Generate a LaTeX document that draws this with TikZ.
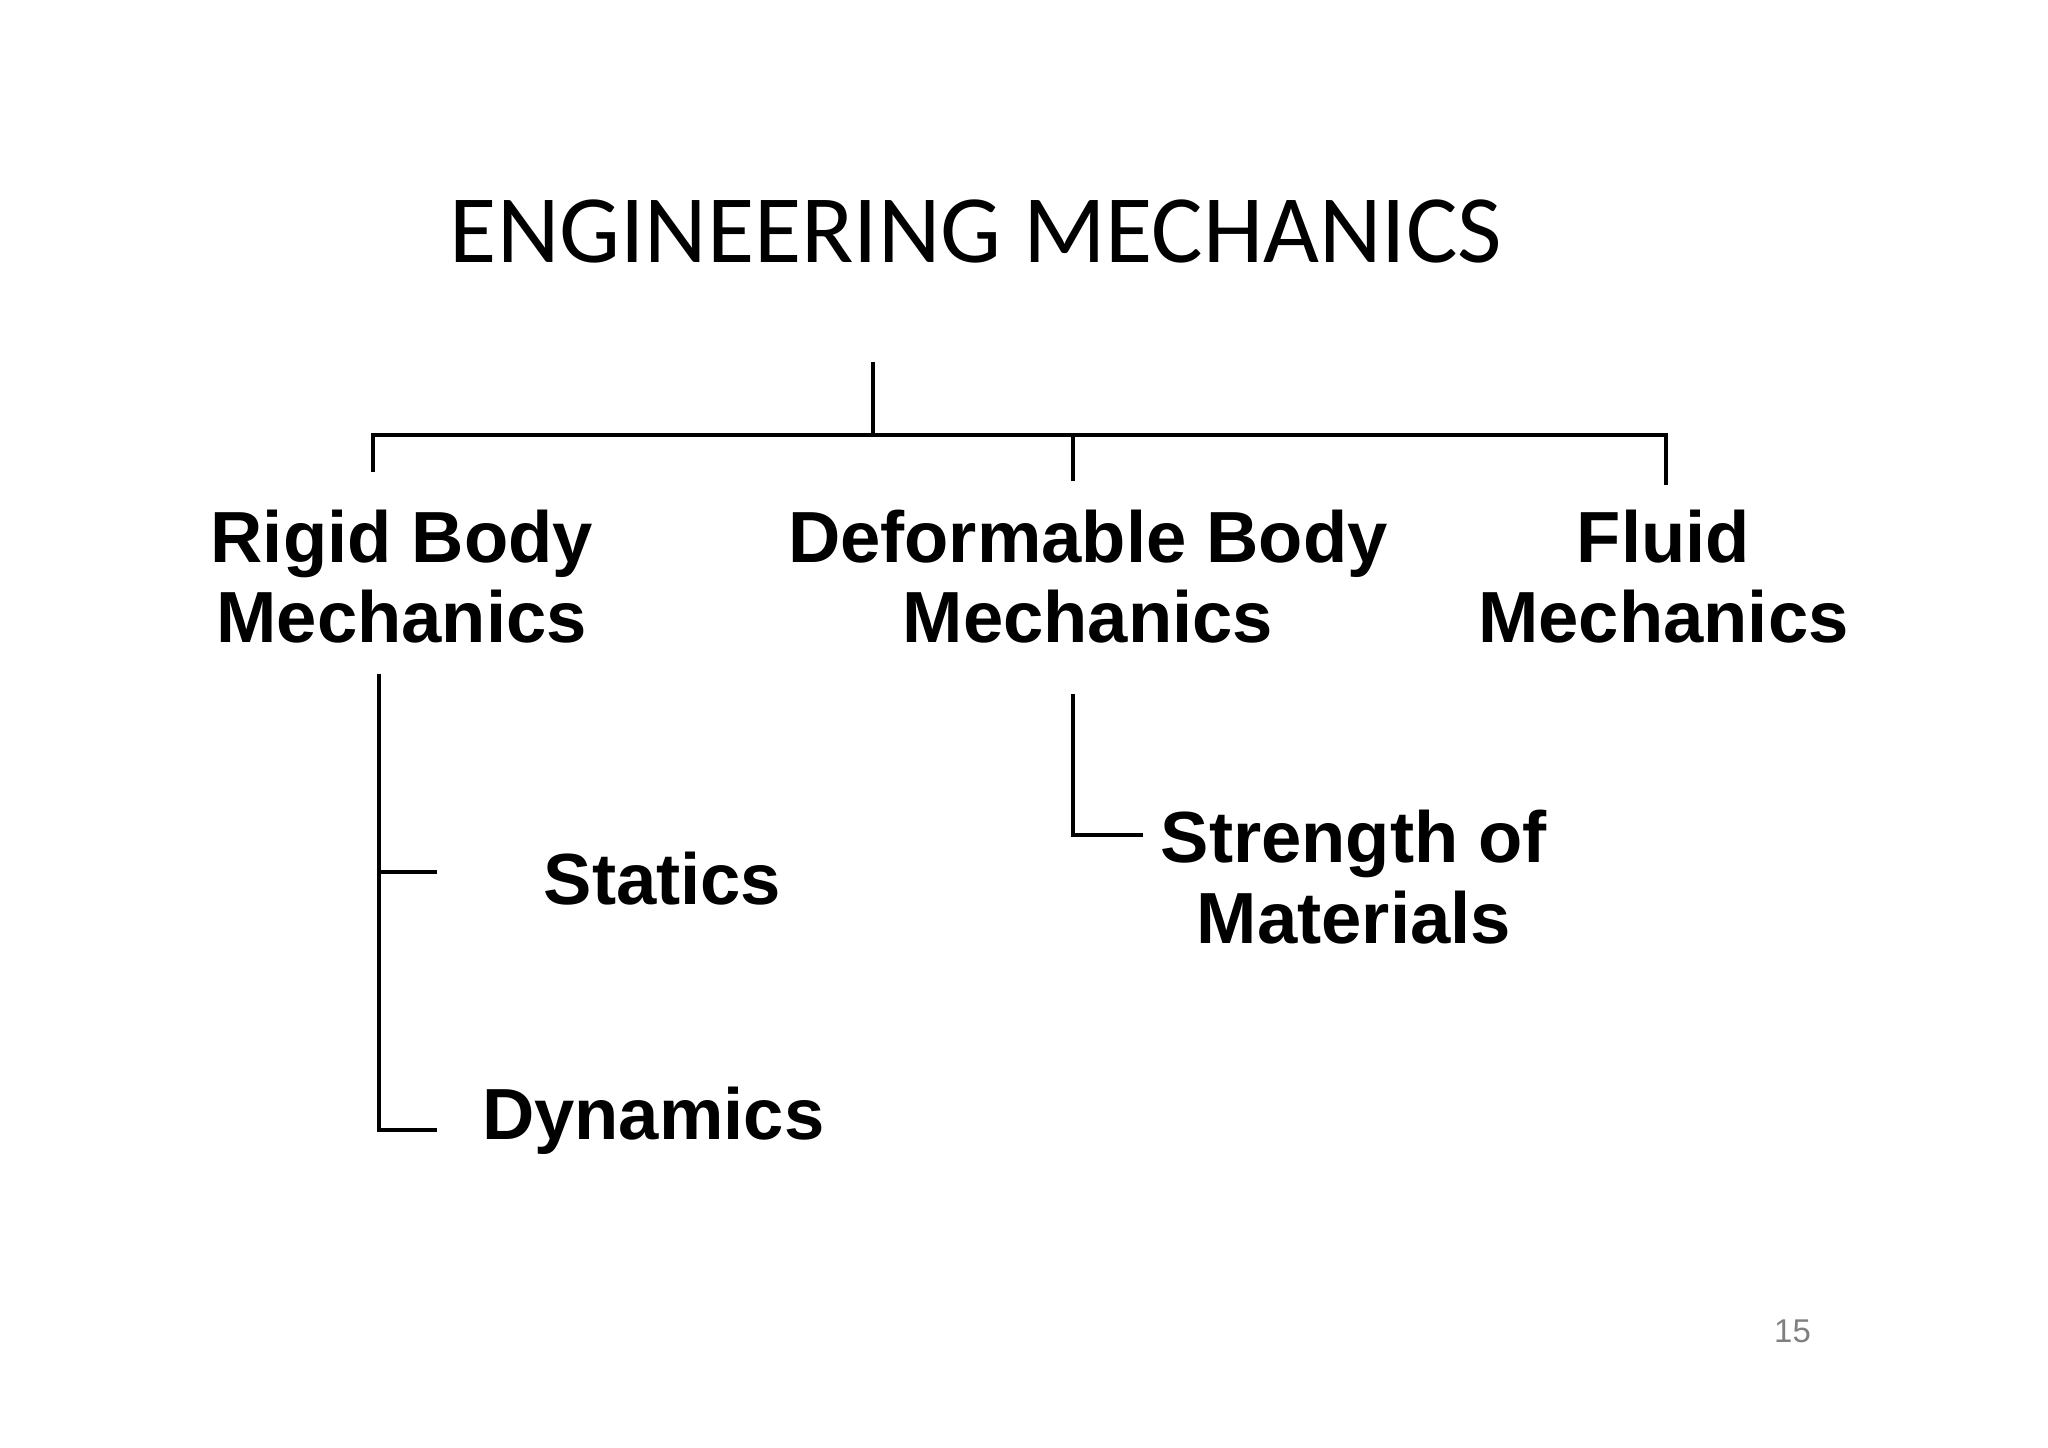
\documentclass[tikz,border=0pt]{standalone}
\usepackage{fontspec}
\setmainfont{Liberation Sans}
\newfontfamily\titlefont{Carlito}
\begin{document}
\begin{tikzpicture}[x=0.3pt,y=-0.3pt,
  lbl/.style={font=\fontsize{16.5}{18.3}\selectfont\bfseries,align=center,inner sep=0pt},
  ln/.style={line width=0.9pt}]
\useasboundingbox (0,0) rectangle (1555,1099);
\node[font=\titlefont\fontsize{22}{26}\selectfont,inner sep=0pt] (t) at (741,176) {ENGINEERING MECHANICS};
\node[lbl] (r) at (305,438) {Rigid Body\\Mechanics};
\node[lbl] (d) at (826,438) {Deformable Body\\Mechanics};
\node[lbl] (f) at (1263,438) {Fluid\\Mechanics};
\node[lbl] (s) at (503,667) {Statics};
\node[lbl] (dy) at (496,851) {Dynamics};
\node[lbl] (m) at (1028,666) {Strength of\\Materials};
\node[text=gray,font=\fontsize{7.5}{9}\selectfont,inner sep=0pt] (p) at (1361,1011) {15};
\coordinate (a1) at (663,275); \coordinate (a2) at (663,330);
\coordinate (hl) at (283,330); \coordinate (hr) at (1265,330);
\draw[ln] (a1) -- (a2);
\draw[ln] (283,358) -- (hl) -- (hr) -- (1265,368);
\draw[ln] (815,330) -- (815,365);
\draw[ln] (288,512) -- (288,858) -- (332,858);
\draw[ln] (288,662) -- (332,662);
\draw[ln] (815,527) -- (815,634) -- (868,634);
\end{tikzpicture}
\end{document}
